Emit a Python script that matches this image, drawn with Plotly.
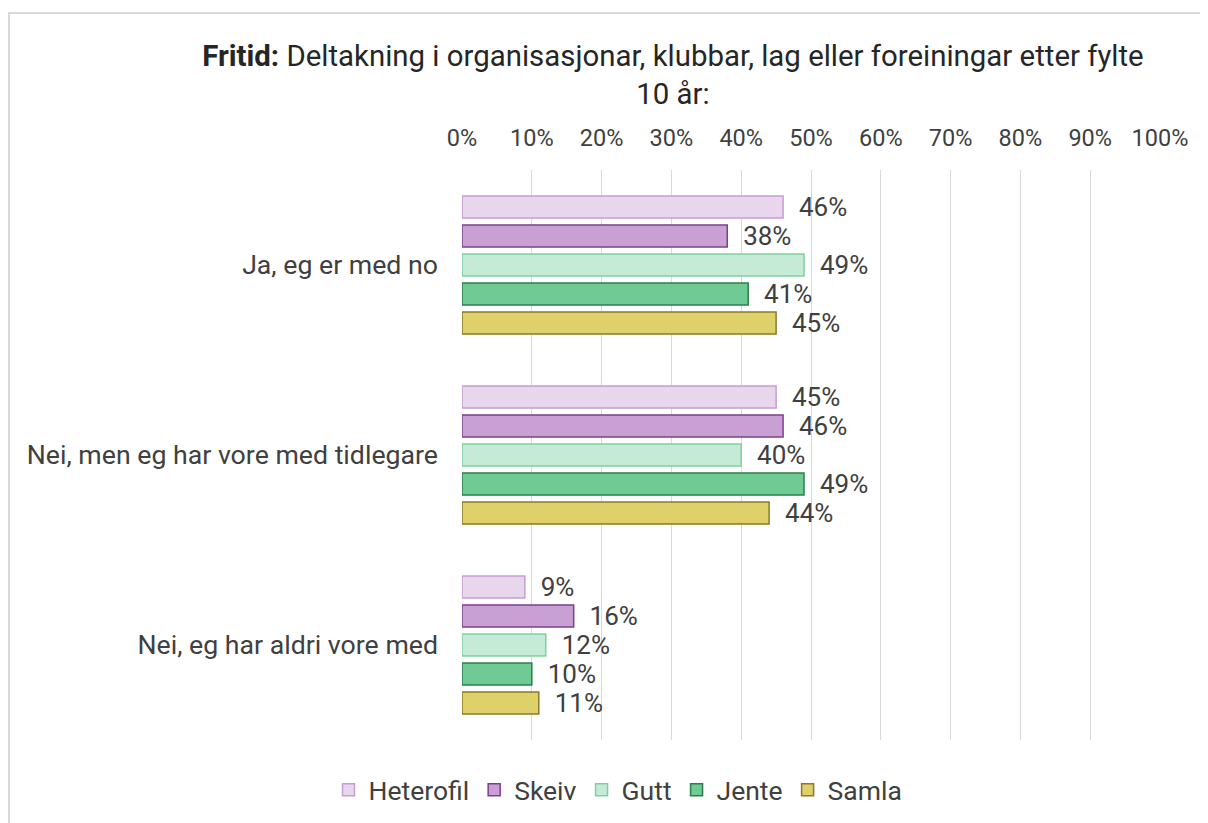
import plotly.graph_objects as go

categories = ["Ja, eg er med no", "Nei, men eg har vore med tidlegare", "Nei, eg har aldri vore med"]
series_names = ["Heterofil", "Skeiv", "Gutt", "Jente", "Samla"]
heterofil = [46, 45, 9]
skeiv = [38, 46, 16]
gutt = [49, 40, 12]
jente = [41, 49, 10]
samla = [45, 44, 11]
values = [heterofil, skeiv, gutt, jente, samla]
fills = ["#E8D6EC", "#C9A0D4", "#C5EAD6", "#6FCA94", "#DED16A"]
borders = ["#C89CD4", "#7B3F8C", "#7FD0A0", "#2E7D4E", "#8A7A2A"]
tick_vals = list(range(0, 101, 10))
tick_text = [f"{v}%" for v in tick_vals]

fig = go.Figure()
for name, vals, fc, bc in zip(series_names, values, fills, borders):
    fig.add_trace(go.Bar(
        y=categories, x=vals, name=name, orientation="h",
        marker=dict(color=fc, line=dict(color=bc, width=1.5)),
        text=[f"\u00a0\u00a0{v}%" for v in vals], textposition="outside",
        constraintext="none",
        textfont=dict(size=26, color="#404040", family="Roboto"),
        cliponaxis=False,
    ))

# page has an 8px body margin; figure coordinates are page - 8
W, H = 1200, 815
L, T = 454, 162
R, B = 48, 83
pw, ph = W - L - R, H - T - B

fig.update_layout(
    width=W, height=H,
    margin=dict(l=L, r=R, t=T, b=B),
    paper_bgcolor="white", plot_bgcolor="white",
    font=dict(family="Roboto", size=26, color="#404040"),
    barmode="group", bargap=0.237, bargroupgap=0.24,
    title=dict(
        text="<b>Fritid:</b> Deltakning i organisasjonar, klubbar, lag eller foreiningar etter fylte<br>10 år:",
        x=665 / W, xanchor="center", xref="container",
        y=1 - 58 / H, yanchor="top", yref="container",
        font=dict(size=29.4, color="#262626", family="Roboto", lineposition="none"),
    ),
    xaxis=dict(
        range=[0, 100], side="top", tickvals=tick_vals, ticktext=tick_text,
        showgrid=True, gridcolor="#D9D9D9", gridwidth=1.3,
        zeroline=False, showline=False, ticks="",
        ticklabelstandoff=18,
        tickfont=dict(size=23.5, color="#404040"),
    ),
    yaxis=dict(
        autorange="reversed", showgrid=False, zeroline=False, showline=False,
        ticks="", ticklabelstandoff=23,
        tickfont=dict(size=26.7, color="#404040"),
    ),
    legend=dict(
        orientation="h", x=610 / W, xanchor="center", xref="container",
        y=(H - 782) / H, yanchor="middle", yref="container",
        font=dict(size=26.5, color="#404040"),
        traceorder="normal", itemwidth=30,
    ),
    shapes=[dict(
        type="rect", xref="paper", yref="paper",
        x0=(1 - L) / pw, x1=(1215 - L) / pw,
        y0=(H - B - 840) / ph, y1=(H - B - 5) / ph,
        line=dict(color="#D9D9D9", width=2), fillcolor="rgba(0,0,0,0)", layer="below",
    )],
)

fig.write_html("out.html")
